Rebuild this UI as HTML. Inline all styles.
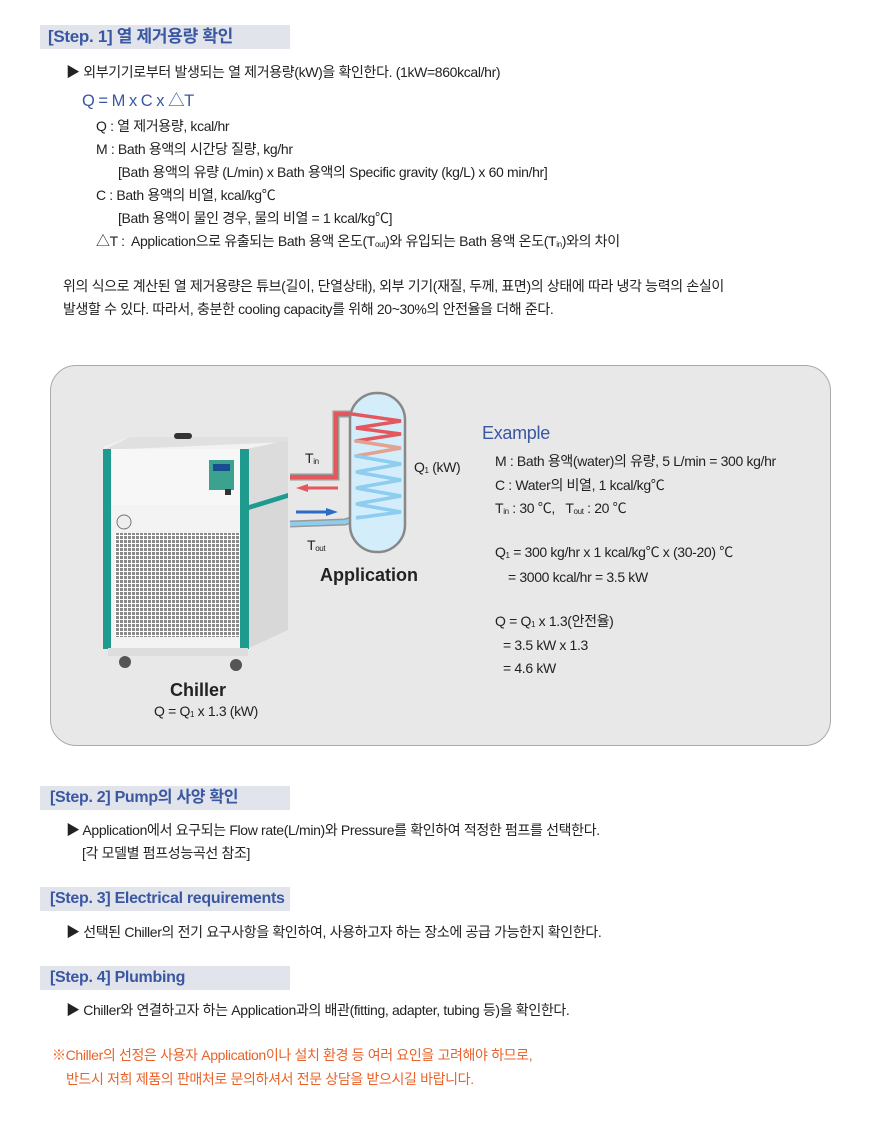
<!DOCTYPE html>
<html><head><meta charset="utf-8"><style>
body{margin:0;width:878px;height:1125px;background:#fff;position:relative;overflow:hidden;font-family:"Liberation Sans","Noto Sans CJK KR",sans-serif;color:#222}
.t{position:absolute;white-space:nowrap;font-size:14px;letter-spacing:-0.35px;line-height:18px}
.bar{position:absolute;left:40px;width:250px;height:24px;background:#e1e4ea}
.bt{position:absolute;left:48px;font-size:16px;font-weight:bold;color:#3a57a3;letter-spacing:-0.3px;line-height:24px;white-space:nowrap}
.blue{color:#3a57a3}
sub{font-size:8px;vertical-align:-1px}
</style></head><body>
<div class="bar" style="top:25px"></div><div class="bt" style="top:25px;font-size:17px">[Step. 1] 열 제거용량 확인</div>
<div class="t" style="left:66px;top:63px">▶ 외부기기로부터 발생되는 열 제거용량(kW)을 확인한다. (1kW=860kcal/hr)</div>
<div class="t blue" style="left:82px;top:92px;font-size:16.5px;letter-spacing:-0.5px">Q = M x C x △T</div>
<div class="t" style="left:96px;top:117px">Q : 열 제거용량, kcal/hr</div>
<div class="t" style="left:96px;top:140px">M : Bath 용액의 시간당 질량, kg/hr</div>
<div class="t" style="left:118px;top:163px">[Bath 용액의 유량 (L/min) x Bath 용액의 Specific gravity (kg/L) x 60 min/hr]</div>
<div class="t" style="left:96px;top:186px">C : Bath 용액의 비열, kcal/kg℃</div>
<div class="t" style="left:118px;top:209px">[Bath 용액이 물인 경우, 물의 비열 = 1 kcal/kg℃]</div>
<div class="t" style="left:96px;top:232px">△T :&nbsp; Application으로 유출되는 Bath 용액 온도(T<sub>out</sub>)와 유입되는 Bath 용액 온도(T<sub>in</sub>)와의 차이</div>
<div class="t" style="left:63px;top:277px">위의 식으로 계산된 열 제거용량은 튜브(길이, 단열상태), 외부 기기(재질, 두께, 표면)의 상태에 따라 냉각 능력의 손실이</div>
<div class="t" style="left:63px;top:300px">발생할 수 있다. 따라서, 충분한 cooling capacity를 위해 20~30%의 안전율을 더해 준다.</div>

<div style="position:absolute;left:50px;top:365px;width:779px;height:379px;background:#e8e8e8;border:1px solid #aaa;border-radius:26px"></div>
<svg style="position:absolute;left:0;top:0" width="878" height="1125">
 <defs><pattern id="g" width="4" height="4" patternUnits="userSpaceOnUse"><rect width="4" height="4" fill="#fff"/><rect width="3" height="3" fill="#8a8a8a"/></pattern></defs>
 <polygon points="103,447 130,437 288,437 288,500 247,510 103,500" fill="#f2f2f2"/>
 <polygon points="130,437 288,437 288,442 103,450" fill="#e0e0e0"/>
 <rect x="103" y="449" width="144" height="56" fill="#f7f7f7"/>
 <polygon points="247,449 288,440 288,500 247,510" fill="#dcdcdc"/>
 <rect x="103" y="449" width="8" height="200" fill="#1f9a8f"/>
 <rect x="240" y="449" width="9" height="200" fill="#1f9a8f"/>
 <polygon points="249,505 288,493 288,498 249,510" fill="#1f9a8f"/>
 <rect x="111" y="505" width="129" height="143" fill="#f3f3f3"/>
 <polygon points="249,510 288,498 288,630 249,648" fill="#d8d8d8"/>
 <rect x="115" y="533" width="125" height="104" fill="url(#g)"/>
 <rect x="209" y="460" width="25" height="30" fill="#3aa28f"/>
 <rect x="213" y="464" width="17" height="7" fill="#1a4d8f"/>
 <rect x="225" y="489" width="6" height="6" fill="#333"/>
 <circle cx="124" cy="522" r="7" fill="#eee" stroke="#777"/>
 <rect x="174" y="433" width="18" height="6" rx="3" fill="#333"/>
 <rect x="108" y="648" width="140" height="8" fill="#ddd"/>
 <circle cx="125" cy="662" r="6" fill="#555"/><circle cx="236" cy="665" r="6" fill="#555"/>
 <polyline points="290,477 336,477 336,414 352,414" fill="none" stroke="#999" stroke-width="7"/>
 <polyline points="290,477 336,477 336,414 352,414" fill="none" stroke="#e4575c" stroke-width="4"/>
 <polyline points="290,524 345,522 360,517" fill="none" stroke="#999" stroke-width="7"/>
 <polyline points="290,524 345,522 360,517" fill="none" stroke="#8ccdf0" stroke-width="4"/>
 <rect x="350" y="393" width="55" height="159" rx="27" fill="#d3eefa" stroke="#888" stroke-width="2.5"/>
 <g fill="none" stroke-width="3.5" stroke-linecap="round">
  <polyline points="352,414 401,421 356,428 401,434 356,441" stroke="#e4575c"/>
  <polyline points="356,441 401,448 356,456" stroke="#e3a190"/>
  <polyline points="356,456 401,464 356,472 401,480 356,488 401,496 356,504 401,512 356,518 360,517" stroke="#8ccdf0"/>
 </g>
 <polygon points="296,488 308,484 308,486.5 338,486.5 338,489.5 308,489.5 308,492" fill="#e4575c"/>
 <polygon points="338,512 326,508 326,510.5 296,510.5 296,513.5 326,513.5 326,516" fill="#2b6cc4"/>
</svg>
<div class="t" style="left:305px;top:449px">T<sub>in</sub></div>
<div class="t" style="left:307px;top:536px">T<sub>out</sub></div>
<div class="t" style="left:414px;top:458px">Q<sub>1</sub> (kW)</div>
<div class="t" style="left:320px;top:564px;font-size:18px;font-weight:bold;letter-spacing:0;line-height:22px">Application</div>
<div class="t" style="left:170px;top:679px;font-size:18px;font-weight:bold;letter-spacing:0;line-height:22px">Chiller</div>
<div class="t" style="left:154px;top:702px">Q = Q<sub>1</sub> x 1.3 (kW)</div>
<div class="t blue" style="left:482px;top:422px;font-size:18px;line-height:22px;letter-spacing:-0.3px">Example</div>
<div class="t" style="left:495px;top:452px">M : Bath 용액(water)의 유량, 5 L/min = 300 kg/hr</div>
<div class="t" style="left:495px;top:476px">C : Water의 비열, 1 kcal/kg℃</div>
<div class="t" style="left:495px;top:499px">T<sub>in</sub> : 30 ℃,&nbsp;&nbsp; T<sub>out</sub> : 20 ℃</div>
<div class="t" style="left:495px;top:543px">Q<sub>1</sub> = 300 kg/hr x 1 kcal/kg℃ x (30-20) ℃</div>
<div class="t" style="left:508px;top:568px">= 3000 kcal/hr = 3.5 kW</div>
<div class="t" style="left:495px;top:612px">Q = Q<sub>1</sub> x 1.3(안전율)</div>
<div class="t" style="left:503px;top:636px">= 3.5 kW x 1.3</div>
<div class="t" style="left:503px;top:659px">= 4.6 kW</div>

<div class="bar" style="top:786px"></div><div class="bt" style="top:786px;left:50px">[Step. 2] Pump의 사양 확인</div>
<div class="t" style="left:66px;top:821px">▶ Application에서 요구되는 Flow rate(L/min)와 Pressure를 확인하여 적정한 펌프를 선택한다.</div>
<div class="t" style="left:82px;top:844px">[각 모델별 펌프성능곡선 참조]</div>
<div class="bar" style="top:887px"></div><div class="bt" style="top:887px;left:50px">[Step. 3] Electrical requirements</div>
<div class="t" style="left:66px;top:923px">▶ 선택된 Chiller의 전기 요구사항을 확인하여, 사용하고자 하는 장소에 공급 가능한지 확인한다.</div>
<div class="bar" style="top:966px"></div><div class="bt" style="top:966px;left:50px">[Step. 4] Plumbing</div>
<div class="t" style="left:66px;top:1001px">▶ Chiller와 연결하고자 하는 Application과의 배관(fitting, adapter, tubing 등)을 확인한다.</div>
<div class="t" style="left:52px;top:1046px;color:#e8632a">※Chiller의 선정은 사용자 Application이나 설치 환경 등 여러 요인을 고려해야 하므로,</div>
<div class="t" style="left:66px;top:1070px;color:#e8632a">반드시 저희 제품의 판매처로 문의하셔서 전문 상담을 받으시길 바랍니다.</div>
</body></html>
